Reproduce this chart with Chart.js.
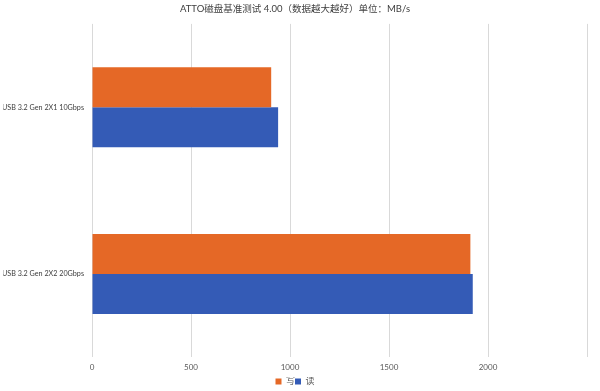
<!DOCTYPE html>
<html><head><meta charset="utf-8">
<script src="https://cdn.jsdelivr.net/npm/chart.js@4"></script>
<style>html,body{margin:0;padding:0;background:#fff}#w{width:600px;height:391px}</style>
</head><body><div id="w"><canvas id="c"></canvas></div>
<script>
const categories = ["USB 3.2 Gen 2X1 10Gbps", "USB 3.2 Gen 2X2 20Gbps"];
const writeValues = [905, 1911];
const readValues = [940, 1923];
const seriesNames = ["写", "读"];
const xTicks = [0, 500, 1000, 1500, 2000, 2500];
const FONT = "Lato, 'Noto Sans CJK SC', sans-serif";
Chart.defaults.font.family = FONT;
new Chart(document.getElementById('c'), {
  type: 'bar',
  data: {
    labels: categories,
    datasets: [
      {label: seriesNames[0], data: writeValues, backgroundColor: '#E56826', borderWidth: 0},
      {label: seriesNames[1], data: readValues, backgroundColor: '#345BB6', borderWidth: 0}
    ]
  },
  options: {
    indexAxis: 'y',
    responsive: true, maintainAspectRatio: false, animation: false,
    layout: {padding: {left: 3, right: 13, top: 0, bottom: -5}},
    categoryPercentage: 0.48, barPercentage: 1.0,
    plugins: {
      title: {display: true, text: 'ATTO磁盘基准测试 4.00（数据越大越好）单位：MB/s', color: '#404040', font: {size: 9.5, weight: 'normal'}, padding: {top: 3, bottom: 9.5}},
      legend: {position: 'bottom', labels: {boxWidth: 6, boxHeight: 6, padding: 0, color: '#595959', font: {size: 9}}},
      tooltip: {enabled: false}
    },
    scales: {
      x: {
        min: 0, max: 2500,
        afterBuildTicks: s => { s.ticks = xTicks.map(v => ({value: v})); },
        ticks: {color: '#595959', font: {size: 8}, padding: 5, callback: v => v === 2500 ? '' : v},
        grid: {color: '#d9d9d9', lineWidth: 1, drawTicks: false},
        border: {display: false}
      },
      y: {
        afterFit: s => { s.width = 89; },
        ticks: {color: '#404040', font: {size: 7.2}, padding: 8},
        grid: {display: false, drawTicks: false},
        border: {display: false}
      }
    }
  }
});
</script></body></html>
